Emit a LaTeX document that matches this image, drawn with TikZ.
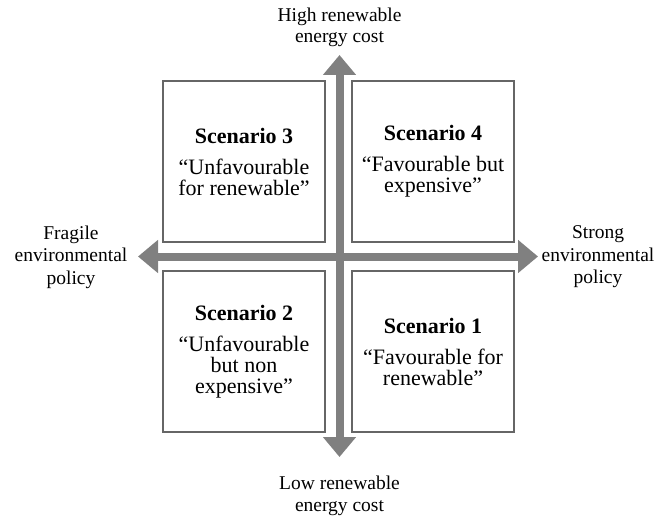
\documentclass[tikz,border=0pt]{standalone}
\usepackage{fontspec}
\setmainfont{Liberation Serif}
\usetikzlibrary{arrows.meta}
\definecolor{axisgray}{HTML}{808080}
\definecolor{framegray}{HTML}{666666}
\tikzset{
  scenbox/.style={draw=framegray, line width=1.5pt, fill=white,
    minimum width=162pt, minimum height=161pt, inner sep=0pt,
    align=center, font=\fontsize{22}{21}\selectfont},
  axislabel/.style={align=center, inner sep=0pt,
    font=\fontsize{19.5}{21.5}\selectfont},
  sidelabel/.style={align=center, inner sep=0pt,
    font=\fontsize{19.5}{22.5}\selectfont},
  axis/.style={draw=axisgray, line width=8pt,
    {Triangle[length=20pt,width=32pt]}-{Triangle[length=20pt,width=32pt]}}
}
\begin{document}
\begin{tikzpicture}[x=1pt,y=-1pt]
  \useasboundingbox (0,0) rectangle (660,521);

  % four scenario quadrants
  \node[scenbox] (s3) at (244,161.5)
    {\textbf{Scenario 3}\\[10pt]“Unfavourable\\for renewable”};
  \node[scenbox] (s4) at (433,161.5)
    {\textbf{Scenario 4}\\[10pt]“Favourable but\\expensive”};
  \node[scenbox] (s2) at (244,351.5)
    {\textbf{Scenario 2}\\[10pt]“Unfavourable\\but non\\expensive”};
  \node[scenbox] (s1) at (433,351.5)
    {\textbf{Scenario 1}\\[10pt]“Favourable for\\renewable”};

  % axis end points
  \coordinate (ntip) at (339.5,55);
  \coordinate (stip) at (339.5,457);
  \coordinate (wtip) at (138,256.5);
  \coordinate (etip) at (538,256.5);

  % axes
  \draw[axis] (stip) -- (ntip);
  \draw[axis] (wtip) -- (etip);

  % axis labels
  \node[axislabel] (hi) at (339.5,27.5) {High renewable\\energy cost};
  \node[axislabel] (lo) at (339.5,496) {Low renewable\\energy cost};
  \node[sidelabel] (fr) at (71,257) {Fragile\\environmental\\policy};
  \node[sidelabel] (st) at (598,257) {Strong\\environmental\\policy};
\end{tikzpicture}
\end{document}
